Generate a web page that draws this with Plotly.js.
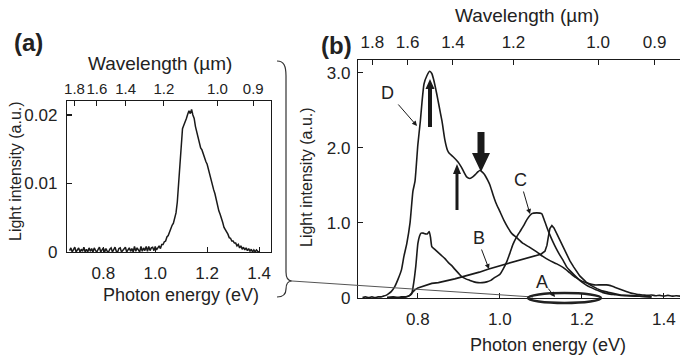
<!DOCTYPE html>
<html><head><meta charset="utf-8">
<script src="https://cdn.plot.ly/plotly-3.0.1.min.js"></script>
<style>html,body{margin:0;padding:0;background:#fff}#chart{width:680px;height:358px}</style>
</head><body><div id="chart"></div>
<script>
// ---------- Data ----------
// Panel (a): photon energy (eV) and light intensity (a.u.)
const energyA = [0.670,0.675,0.680,0.685,0.690,0.695,0.700,0.705,0.710,0.715,0.720,0.725,0.730,0.735,0.740,0.745,0.750,0.755,0.760,0.765,0.770,0.775,0.780,0.785,0.790,0.795,0.800,0.805,0.810,0.815,0.820,0.825,0.830,0.835,0.840,0.845,0.850,0.855,0.860,0.865,0.870,0.875,0.880,0.885,0.890,0.895,0.900,0.905,0.910,0.915,0.920,0.925,0.930,0.935,0.940,0.945,0.950,0.955,0.960,0.965,0.970,0.975,0.980,0.985,0.990,0.995,1.000,1.005,1.010,1.015,1.020,1.025,1.030,1.035,1.040,1.045,1.050,1.055,1.060,1.065,1.070,1.075,1.080,1.085,1.090,1.095,1.100,1.105,1.110,1.115,1.120,1.125,1.130,1.135,1.140,1.145,1.150,1.155,1.160,1.165,1.170,1.175,1.180,1.185,1.190,1.195,1.200,1.205,1.210,1.215,1.220,1.225,1.230,1.235,1.240,1.245,1.250,1.255,1.260,1.265,1.270,1.275,1.280,1.285,1.290,1.295,1.300,1.305,1.310,1.315,1.320,1.325,1.330,1.335,1.340,1.345,1.350,1.355,1.360,1.365,1.370,1.375,1.380,1.385,1.390,1.395,1.400];
const intensityA = [0.0002,0.0006,0.0000,0.0004,0.0007,0.0000,0.0003,0.0006,0.0000,0.0004,0.0001,0.0007,0.0000,0.0004,0.0000,0.0006,0.0001,0.0005,0.0000,0.0006,0.0002,0.0000,0.0004,0.0007,0.0000,0.0003,0.0006,0.0000,0.0005,0.0001,0.0000,0.0004,0.0006,0.0000,0.0003,0.0007,0.0001,0.0000,0.0005,0.0006,0.0000,0.0003,0.0004,0.0007,0.0000,0.0003,0.0006,0.0001,0.0005,0.0000,0.0008,0.0001,0.0006,0.0003,0.0000,0.0008,0.0001,0.0006,0.0002,0.0008,0.0001,0.0008,0.0002,0.0006,0.0007,0.0002,0.0008,0.0003,0.0007,0.0009,0.0005,0.0011,0.0011,0.0015,0.0016,0.0022,0.0024,0.0030,0.0033,0.0039,0.0042,0.0051,0.0057,0.0073,0.0100,0.0135,0.0166,0.0180,0.0185,0.0192,0.0195,0.0201,0.0206,0.0202,0.0208,0.0200,0.0195,0.0183,0.0176,0.0165,0.0160,0.0152,0.0149,0.0142,0.0139,0.0132,0.0128,0.0120,0.0115,0.0106,0.0100,0.0091,0.0085,0.0076,0.0070,0.0060,0.0055,0.0047,0.0043,0.0036,0.0033,0.0028,0.0026,0.0021,0.0020,0.0016,0.0016,0.0013,0.0013,0.0009,0.0011,0.0006,0.0009,0.0004,0.0007,0.0003,0.0006,0.0002,0.0005,0.0001,0.0004,0.0000,0.0003,0.0000,0.0003,0.0001,0.0000];

// Panel (b): curves A-D, photon energy (eV) and light intensity (a.u.)
const energyD = [0.665,0.672,0.680,0.688,0.695,0.703,0.710,0.716,0.722,0.728,0.735,0.744,0.752,0.760,0.766,0.773,0.781,0.788,0.793,0.800,0.806,0.810,0.815,0.822,0.829,0.834,0.838,0.846,0.852,0.859,0.866,0.872,0.876,0.886,0.898,0.905,0.910,0.919,0.927,0.934,0.940,0.947,0.952,0.958,0.963,0.970,0.976,0.983,0.990,1.000,1.010,1.020,1.030,1.041,1.055,1.073,1.090,1.105,1.120,1.139,1.155,1.171,1.185,1.200,1.215,1.230,1.245,1.260,1.270,1.280,1.290,1.300,1.310,1.320,1.330,1.340,1.350,1.360,1.370,1.380,1.390,1.400,1.410,1.420,1.430,1.440];
const intensityD = [0.00,0.01,0.00,0.01,0.00,0.01,0.01,0.02,0.03,0.05,0.08,0.15,0.25,0.37,0.55,0.72,1.00,1.42,1.55,2.04,2.35,2.60,2.85,2.96,3.02,2.99,2.92,2.72,2.55,2.35,2.10,1.97,1.93,1.88,1.81,1.75,1.70,1.61,1.59,1.61,1.64,1.68,1.70,1.67,1.64,1.57,1.50,1.38,1.27,1.15,1.03,0.93,0.85,0.80,0.73,0.67,0.61,0.55,0.50,0.45,0.40,0.33,0.27,0.22,0.19,0.17,0.17,0.17,0.16,0.14,0.12,0.10,0.08,0.06,0.05,0.04,0.035,0.03,0.035,0.025,0.03,0.02,0.03,0.02,0.025,0.02];

const energyC = [0.725,0.740,0.750,0.760,0.770,0.778,0.785,0.790,0.795,0.800,0.804,0.808,0.813,0.818,0.823,0.828,0.831,0.834,0.842,0.850,0.858,0.866,0.874,0.882,0.890,0.900,0.907,0.917,0.927,0.937,0.947,0.957,0.968,0.978,0.988,1.000,1.008,1.017,1.025,1.032,1.040,1.049,1.058,1.066,1.078,1.090,1.102,1.108,1.114,1.121,1.129,1.137,1.146,1.155,1.163,1.171,1.180,1.195,1.210,1.220,1.237,1.250,1.265,1.280,1.295,1.310,1.330,1.350,1.370];
const intensityC = [0.00,0.01,0.00,0.01,0.01,0.02,0.05,0.20,0.42,0.72,0.82,0.86,0.86,0.85,0.85,0.88,0.80,0.68,0.64,0.60,0.56,0.52,0.47,0.43,0.38,0.32,0.28,0.25,0.23,0.21,0.20,0.20,0.21,0.23,0.27,0.31,0.38,0.48,0.60,0.71,0.80,0.88,0.96,1.04,1.12,1.13,1.12,1.04,0.95,0.85,0.75,0.66,0.57,0.49,0.41,0.36,0.31,0.23,0.17,0.14,0.10,0.07,0.05,0.04,0.03,0.025,0.02,0.015,0.01];

const energyB = [0.725,0.740,0.755,0.770,0.780,0.785,0.792,0.800,0.810,0.820,0.834,0.850,0.866,0.880,0.890,0.910,0.932,0.950,0.971,0.990,1.012,1.030,1.049,1.070,1.090,1.100,1.110,1.115,1.118,1.122,1.127,1.132,1.140,1.146,1.155,1.163,1.171,1.180,1.195,1.210,1.220,1.237,1.250,1.265,1.280,1.295,1.310,1.330,1.350,1.370];
const intensityB = [0.00,0.005,0.00,0.01,0.03,0.06,0.10,0.13,0.15,0.17,0.19,0.20,0.22,0.23,0.25,0.28,0.31,0.34,0.38,0.41,0.44,0.47,0.50,0.53,0.56,0.58,0.62,0.70,0.80,0.92,0.96,0.93,0.84,0.77,0.67,0.57,0.49,0.41,0.29,0.21,0.17,0.12,0.09,0.07,0.05,0.035,0.03,0.02,0.015,0.01];

// Tick labels
const energyTicksA = [0.8, 1.0, 1.2, 1.4];
const energyTicksB = [0.8, 1.0, 1.2, 1.4];
const wavelengthTicks = [1.8, 1.6, 1.4, 1.2, 1.0, 0.9]; // µm
const intensityTicksA = [0, 0.01, 0.02];
const intensityTickTextA = ['0', '0.01', '0.02'];
const intensityTicksB = [0, 1, 2, 3];
const intensityTickTextB = ['0', '1.0', '2.0', '3.0'];
const hc = 1.23984; // eV·µm

// ---------- Layout helpers ----------
const W = 680, H = 358;
const px = x => x / W;
const py = y => 1 - y / H;
const P = s => s.replace(/(-?\d+\.?\d*),(-?\d+\.?\d*)/g, (m, a, b) => px(+a).toFixed(5) + ',' + py(+b).toFixed(5));

const FONT = 'Liberation Sans, Arial, Helvetica, sans-serif';
const INK = '#1a1a1a';
const fmt1 = v => v.toFixed(1);

const axBase = {
  showgrid: false, zeroline: false, showline: true, linecolor: INK, linewidth: 1.2,
  ticks: 'inside', ticklen: 5, tickwidth: 1.1, tickcolor: INK, tickangle: 0,
  tickfont: {family: FONT, size: 17, color: '#222'}, fixedrange: true
};
const wlVals = wavelengthTicks.map(l => hc / l);
const wlText = wavelengthTicks.map(fmt1);

const lineTrace = (x, y, xa, ya, line) => ({x, y, xaxis: xa, yaxis: ya, mode: 'lines', line, hoverinfo: 'skip', showlegend: false});

const data = [
  lineTrace(energyA, intensityA, 'x', 'y', {color: INK, width: 1.5}),
  lineTrace(energyD, intensityD, 'x3', 'y3', {color: INK, width: 1.6, shape: 'spline', smoothing: 0.5}),
  lineTrace(energyC, intensityC, 'x3', 'y3', {color: INK, width: 1.6, shape: 'spline', smoothing: 0.4}),
  lineTrace(energyB, intensityB, 'x3', 'y3', {color: INK, width: 1.6}),
  // invisible traces to activate the top (wavelength) axes
  {x: [0.7], y: [0], xaxis: 'x2', yaxis: 'y', mode: 'markers', marker: {opacity: 0}, hoverinfo: 'skip', showlegend: false},
  {x: [0.7], y: [0], xaxis: 'x4', yaxis: 'y3', mode: 'markers', marker: {opacity: 0}, hoverinfo: 'skip', showlegend: false}
];

const domAx = [px(67), px(271)];
const domAy = [py(252), py(101)];
const domBx = [px(358), 1];
const domBy = [py(298), py(60)];

const layout = {
  width: W, height: H, margin: {l: 0, r: 0, t: 0, b: 0},
  paper_bgcolor: '#fff', plot_bgcolor: 'rgba(0,0,0,0)', showlegend: false,
  font: {family: FONT, color: '#222'},
  xaxis: Object.assign({}, axBase, {domain: domAx, anchor: 'y', range: [0.66, 1.446],
    tickvals: energyTicksA, ticktext: energyTicksA.map(fmt1), ticklabelstandoff: 5}),
  xaxis2: Object.assign({}, axBase, {overlaying: 'x', side: 'top', anchor: 'y', range: [0.66, 1.446],
    tickvals: wlVals, ticktext: wlText, ticklabelstandoff: 0, tickfont: {family: FONT, size: 15, color: '#222'}}),
  yaxis: Object.assign({}, axBase, {domain: domAy, anchor: 'x', range: [0, 0.02204], mirror: true,
    tickvals: intensityTicksA, ticktext: intensityTickTextA, ticklabelstandoff: 5}),
  xaxis3: Object.assign({}, axBase, {domain: domBx, anchor: 'y3', range: [0.654, 1.4395],
    tickvals: energyTicksB, ticktext: energyTicksB.map(fmt1), ticklabelstandoff: 5}),
  xaxis4: Object.assign({}, axBase, {overlaying: 'x3', side: 'top', anchor: 'y3', range: [0.654, 1.4395],
    tickvals: wlVals, ticktext: wlText, ticklabelstandoff: 4}),
  yaxis3: Object.assign({}, axBase, {domain: domBy, anchor: 'x3', range: [-0.005, 3.17],
    tickvals: intensityTicksB, ticktext: intensityTickTextB, ticklabelstandoff: 3}),
  shapes: [
    // curly bracket linking panel (a) to spectrum A
    {type: 'path', xref: 'paper', yref: 'paper', line: {color: '#333', width: 1.2},
     path: P('M277,61 C284,61 286,66 286,76 L286,272 C286,278 288,281 292,281 C288,281 286,284 286,289 C286,294 284,297 277,297')},
    {type: 'line', xref: 'paper', yref: 'paper', x0: px(292), y0: py(281), x1: px(533), y1: py(297), line: {color: '#555', width: 1}},
    // ellipse marking spectrum A
    {type: 'circle', xref: 'paper', yref: 'paper', x0: px(528), x1: px(601), y0: py(303), y1: py(293), line: {color: '#222', width: 2.4}},
    // bold arrows
    {type: 'path', xref: 'paper', yref: 'paper', fillcolor: INK, line: {width: 0},
     path: P('M428,127 L428,89 L425.5,89 L430,79 L434.5,89 L432,89 L432,127 Z')},
    {type: 'path', xref: 'paper', yref: 'paper', fillcolor: INK, line: {width: 0},
     path: P('M455.5,210 L455.5,174 L453,174 L457,164 L461,174 L458.5,174 L458.5,210 Z')},
    {type: 'path', xref: 'paper', yref: 'paper', fillcolor: INK, line: {width: 0},
     path: P('M477.5,132 L484.5,132 L484.5,153 L490,153 L481,172 L472,153 L477.5,153 Z')}
  ],
  annotations: [
    {text: '<b>(a)</b>', x: px(28), y: py(43), font: {size: 24}},
    {text: '<b>(b)</b>', x: px(336), y: py(45), font: {size: 24}},
    {text: 'Wavelength (µm)', x: px(160), y: py(63), font: {size: 19}},
    {text: 'Wavelength (µm)', x: px(527), y: py(16), font: {size: 19}},
    {text: 'Photon energy (eV)', x: px(181), y: py(295), font: {size: 18}},
    {text: 'Photon energy (eV)', x: px(548), y: py(345), font: {size: 18}},
    {text: 'Light intensity (a.u.)', x: px(15), y: py(171), textangle: -90, font: {size: 16}},
    {text: 'Light intensity (a.u.)', x: px(307), y: py(177), textangle: -90, font: {size: 16}},
    {text: 'D', x: px(387), y: py(93), font: {size: 18}},
    {text: 'C', x: px(520), y: py(180), font: {size: 18}},
    {text: 'B', x: px(479), y: py(238), font: {size: 18}},
    {text: 'A', x: px(542), y: py(282), font: {size: 18}},
    {text: '', x: px(417), y: py(126), ax: -20, ay: -23, showarrow: true, arrowhead: 2, arrowsize: 1, arrowwidth: 1, arrowcolor: INK},
    {text: '', x: px(530), y: py(214), ax: -7, ay: -24, showarrow: true, arrowhead: 2, arrowsize: 1, arrowwidth: 1, arrowcolor: INK},
    {text: '', x: px(489), y: py(269), ax: -8, ay: -21, showarrow: true, arrowhead: 2, arrowsize: 1, arrowwidth: 1, arrowcolor: INK},
    {text: '', x: px(555), y: py(297), ax: -8, ay: -10, showarrow: true, arrowhead: 2, arrowsize: 1, arrowwidth: 1, arrowcolor: INK}
  ].map(a => Object.assign({xref: 'paper', yref: 'paper', showarrow: false, xanchor: 'center', yanchor: 'middle'}, a))
};
layout.annotations.forEach(a => { a.font = Object.assign({family: FONT, color: '#222'}, a.font || {}); });

Plotly.newPlot('chart', data, layout, {staticPlot: true, displayModeBar: false});
</script>
</body></html>
